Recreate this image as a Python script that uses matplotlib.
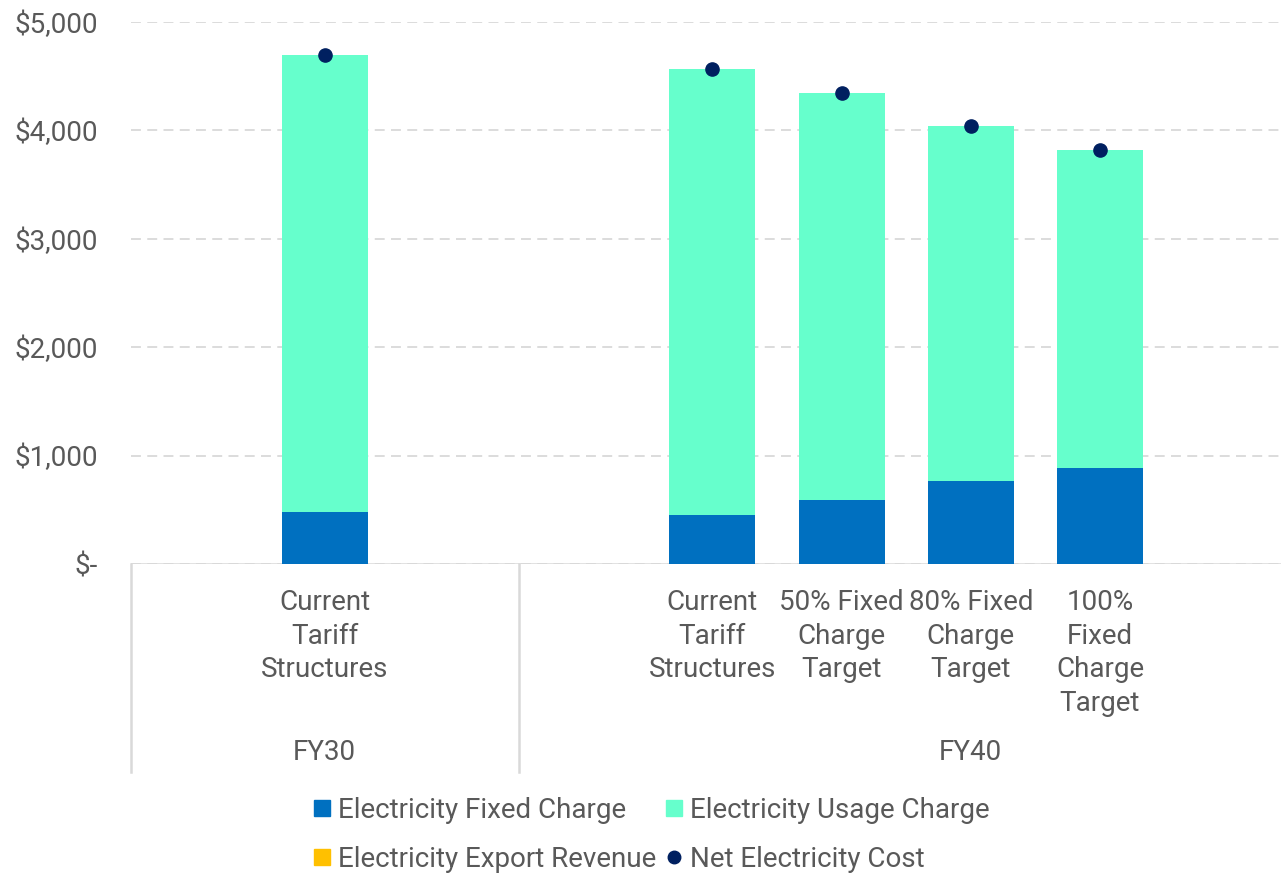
import numpy as np
import matplotlib
matplotlib.use("Agg")
import matplotlib.pyplot as plt
from matplotlib.lines import Line2D
from matplotlib.ticker import FuncFormatter

plt.rcParams['font.family'] = ['Roboto', 'DejaVu Sans']

# scenario data
groups = ['FY30', 'FY40']
scenarios = ['Current\nTariff\nStructures',
             'Current\nTariff\nStructures',
             '50% Fixed\nCharge\nTarget',
             '80% Fixed\nCharge\nTarget',
             '100%\nFixed\nCharge\nTarget']
scenario_group = [0, 1, 1, 1, 1]
fixed_charge = [480, 455, 590, 770, 885]
usage_charge = [4215, 4110, 3755, 3270, 2935]
export_revenue = [0, 0, 0, 0, 0]
net_cost = [4695, 4565, 4345, 4040, 3820]

# slot layout: FY30 has 3 slots, FY40 has 7 (blank padding slots either side)
group_slots = [3, 7]
bar_slots = [1, 4, 5, 6, 7]

TXT = '#595959'
GRID = '#D9D9D9'
C_FIXED = '#0070C0'
C_USAGE = '#66FFCC'
C_EXPORT = '#FFC000'
C_NET = '#002060'
FS = 20

W, H = 1281, 876
fig = plt.figure(figsize=(W / 100, H / 100), dpi=100)
total_slots = sum(group_slots)
slot_px = 129.2
ax = fig.add_axes([131 / W, (H - 564) / H, total_slots * slot_px / W, (564 - 22) / H])

x = np.array(bar_slots)
fixed = np.array(fixed_charge)
usage = np.array(usage_charge)
export = np.array(export_revenue)

bw = 0.665
ax.bar(x, fixed, bw, color=C_FIXED, zorder=3)
ax.bar(x, usage, bw, bottom=fixed, color=C_USAGE, zorder=3)
ax.bar(x, -export, bw, color=C_EXPORT, zorder=3)
ax.plot(x, net_cost, 'o', color=C_NET, markersize=9.5, zorder=4)

ax.set_xlim(-0.5, total_slots - 0.5)
ax.set_ylim(0, 5000)
ax.set_yticks(np.arange(0, 5001, 1000))
ax.yaxis.set_major_formatter(FuncFormatter(lambda v, p: '$-' if v == 0 else f'${v:,.0f}'))
ax.grid(axis='y', color=GRID, linestyle=(0, (5.5, 3.5)), linewidth=1.3, zorder=0)
ax.axhline(0, color=GRID, linewidth=1.8, zorder=2)

for s in ax.spines.values():
    s.set_visible(False)
ax.tick_params(axis='y', length=0, pad=24, labelsize=FS, labelcolor=TXT)
ax.tick_params(axis='x', length=0, pad=18, labelsize=FS, labelcolor=TXT)
ax.set_xticks(x)
ax.set_xticklabels(scenarios, linespacing=1.32)

# group separators and group labels under the category labels
trans = ax.get_xaxis_transform()
drop = -(772 - 564) / (564 - 22)
edges = np.concatenate([[0], np.cumsum(group_slots)]) - 0.5
for e in edges:
    ax.plot([e, e], [0, drop], color=GRID, linewidth=1.8, transform=trans, clip_on=False)
for i, g in enumerate(groups):
    mid = (edges[i] + edges[i + 1]) / 2
    ax.text(mid, -(752 - 564) / (564 - 22), g, transform=trans, ha='center', va='center',
            fontsize=FS, color=TXT)

handles = [
    Line2D([], [], marker='s', linestyle='none', color=C_FIXED, markersize=11),
    Line2D([], [], marker='s', linestyle='none', color=C_EXPORT, markersize=11),
    Line2D([], [], marker='s', linestyle='none', color=C_USAGE, markersize=11),
    Line2D([], [], marker='o', linestyle='none', color=C_NET, markersize=9),
]
labels = ['Electricity Fixed Charge', 'Electricity Export Revenue',
          'Electricity Usage Charge', 'Net Electricity Cost']
leg = fig.legend(handles, labels, ncol=2, loc='center', bbox_to_anchor=(652 / W, 1 - 835 / H),
                 frameon=False, fontsize=FS, handlelength=0.55, handletextpad=0.3,
                 columnspacing=0.35, labelspacing=0.8, labelcolor=TXT)

fig.savefig('out.png', dpi=100)
